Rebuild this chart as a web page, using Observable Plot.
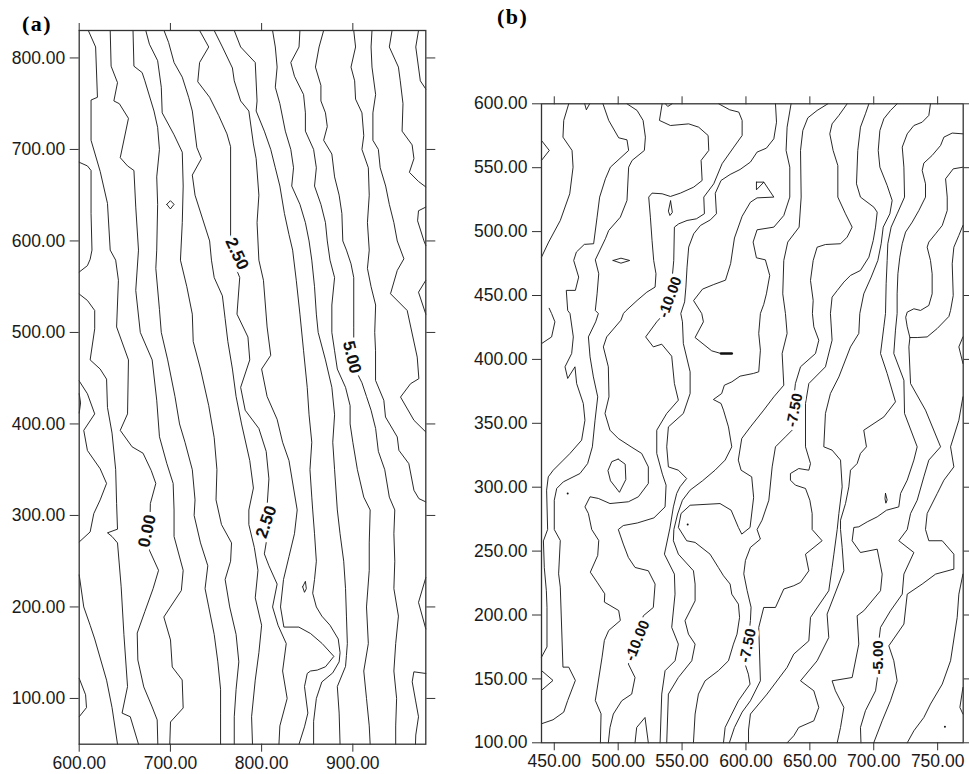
<!DOCTYPE html>
<html><head><meta charset="utf-8">
<script src="https://cdn.jsdelivr.net/npm/d3@7"></script>
<script src="https://cdn.jsdelivr.net/npm/@observablehq/plot@0.6"></script>
<style>
body{margin:0;background:#fff;}
#wrap{position:relative;width:969px;height:774px;overflow:hidden;background:#fff;}
.panel{position:absolute;top:0;}
.tag{position:absolute;font-family:"Liberation Serif","Times New Roman",serif;font-weight:bold;font-size:22px;line-height:1;letter-spacing:1.5px;}
</style></head><body>
<div id="wrap">
<div class="tag" style="left:22px;top:13px">(a)</div>
<div class="tag" style="left:497px;top:6px">(b)</div>
<div id="pa" class="panel" style="left:0px"></div>
<div id="pb" class="panel" style="left:480px"></div>
</div>
<script>
// ---------- Panel (a) ----------
const aTicksX = [600, 700, 800, 900];
const aTicksY = [100, 200, 300, 400, 500, 600, 700, 800];
const A_edge1 = [[600,686],[609,682],[613,677],[613,630],[614,590],[612,580],[609,573],[600,566]];
const A_m05 = [[600,542],[609,535],[617,524],[617,504],[612,470],[623,460],[630,449],[631,418],[636,390],[640,350],[641,313],[642,285],[631,281],[636,277],[642,270],[646,222],[649,170],[653,113],[647,84],[656,80],[665,50]];
const A_m10 = [[600,447],[609,433],[617,411],[605,393],[609,371],[623,351],[630,335],[623,317],[616,302],[612,282],[600,271]];
const A_m15 = [[600,235],[605,200],[612,180],[617,165],[630,120],[636,90],[642,50]];
const A_edge2 = [[600,122],[607,104],[608,90],[600,80]];
const A_edge3 = [[600,433],[601.5,423],[600,412]];
const A_00 = [[610,830],[618,812],[620,757],[613,754],[613,710],[623,676],[631,641],[634,590],[640,579],[643,557],[641,506],[654,470],[653,411],[645,393],[658,375],[670,368],[679,349],[684,335],[678,313],[677,262],[687,240],[681,220],[672,195],[663.6,171.5],[664.3,142],[670.8,112.6],[680,90.7],[685.5,76.6],[686.2,50]];
const A_05 = [[634,830],[635,791],[642,773],[638,753],[644,750],[654,734],[645,691],[653,682],[660,677],[662,637],[665,590],[662,546],[667,500],[680,470],[685,426],[688,386],[696,357],[703,335],[704,306],[704,277],[714,240],[712,218],[700,200],[692.8,189],[700.1,163.9],[702,134.4],[712.9,120.2],[714,89.6],[700.1,74.3],[699.3,50]];
const A_10 = [[659,830],[660,791],[669,784],[672,775],[682,742],[686,724],[688,700],[685,670],[686,640],[685,590],[684,570],[688,525],[690,500],[697,470],[705,430],[710,400],[716,380],[724,350],[727,317],[726,300],[733,270],[741,245],[738,220],[742,200],[748,170],[752,140],[755,110],[755,84],[755,50]];
const A_15 = [[673,830],[677,815],[686,797],[690,768],[691,740],[704,716],[713,697],[714,660],[713,620],[711,579],[718,550],[724,520],[725,490],[733,460],[742,420],[748,385],[751,350],[750,317],[756,290],[767,270],[766,250],[760,230],[765,200],[772,170],[775,140],[772,110],[770,80],[770,50]];
const A_20 = [[693,830],[698,817],[704,795],[713,779],[720,757],[724,742],[729,702],[734,690],[724,672],[727,650],[735,625],[743,600],[745,579],[748,560],[757,540],[760,515],[763,490],[768,460],[772,430],[778,400],[787,360],[791,330],[786,306],[786,290],[792,265],[796,240],[793,210],[800,180],[797,150],[793,120],[789,80],[790,50]];
const A_25 = [[732,830],[742,812],[732,795],[730,774],[743,757],[753,737],[762,717],[766,703],[766,600],[770,575],[776,560],[773,520],[785,495],[787,470],[777,440],[782,415],[797,395],[805,370],[808,340],[806,310],[805,270],[803,258],[808,245],[817,225],[812,200],[818,180],[827,160],[823,130],[828,100],[820,70],[819,50]];
const A_30 = [[748,830],[757,812],[768,789],[770,775],[777,753],[786,742],[791,706],[794,690],[797,650],[795,620],[797,579],[802,557],[806,506],[810,475],[800,460],[806,430],[817,405],[823,380],[830,360],[835,330],[839,306],[836,280],[830,255],[824,230],[820.7,200],[824.4,178],[840.8,178],[853.6,171],[866.4,160],[879.2,146],[870,134.6],[861,131],[853.6,130],[850,127.3],[847,113],[850.7,84],[847,69],[841,50]];
const A_35 = [[770,830],[777,812],[793,795],[795,753],[794,742],[803,720],[810,700],[815,680],[820,660],[825,630],[830,607],[834,590],[838,557],[842,520],[846,480],[850,440],[852,410],[855,380],[853,350],[855,320],[856,306],[858,280],[860,250],[858,230],[856,215],[860,200],[866,190],[875,180],[884,165],[886,150],[885,140],[878,128],[866,118],[860,100],[857,75],[857,50]];
const A_40 = [[812,830],[815,812],[817,790],[815,768],[820,750],[826,720],[832,700],[835,680],[833,660],[842,640],[848,620],[852,600],[855,579],[858,550],[860,520],[862,500],[870,470],[877,440],[880,410],[878,380],[880,350],[883,306],[886,280],[890,250],[892,220],[893,190],[894,160],[893,147],[892,135],[883,113],[885,84],[886,50]];
const A_45 = [[842,830],[841,812],[832,795],[836,780],[846,760],[848,740],[848,720],[857,700],[860,680],[858,660],[865,640],[870,620],[872,600],[875,579],[880,560],[877,530],[877,500],[880,480],[883,460],[892,440],[897,420],[897,400],[900,380],[905,350],[912,320],[919,306],[918,270],[918,240],[915,200],[917,160],[912,130],[915,100],[918,70],[919,50]];
const A_50 = [[868,830],[863,812],[859,790],[865,770],[865,753],[870,740],[872,725],[868,710],[877,695],[880,670],[885,650],[888,630],[889,600],[893,590],[898,575],[901,560],[901,530],[901,505],[901,480],[905,455],[910,445],[915,430],[920,415],[925,395],[928,370],[935,350],[940,320],[946,306],[945,280],[946,250],[945,220],[950,190],[947,160],[945,130],[948,100],[947,70],[947,50]];
const A_55 = [[901,830],[903,812],[898,790],[902,775],[903,755],[910,740],[912,715],[910,700],[917,680],[918,650],[916,620],[918,590],[916,570],[920,550],[925,530],[924,500],[924.9,480],[924.9,447.6],[934,425.8],[935.8,407.6],[948.7,385.8],[950.5,371.2],[961.4,356.6],[967,327.5],[972.4,318.4],[980,314.8]];
const A_60 = [[921,830],[920,812],[921,790],[925,760],[922,740],[922,710],[928,700],[930,680],[936,660],[940,640],[945,620],[948.7,600],[956,580.5],[948.7,567.8],[941.3,542.3],[959.6,524],[970.6,473],[972.4,449.5],[963.3,444],[952.3,429.4],[967,404],[980,391.2]];
const A_65 = [[943,830],[940,812],[950,790],[952,775],[955,750],[954,720],[965,705],[967,690],[962,675],[972,665],[980,659]];
const A_70 = [[972,830],[969,812],[974,775],[980,766]];
const A_r1 = [[980,637],[972,633],[971,622],[978,600],[980,595]];
const A_r2 = [[980,557],[972,544],[980,520]];
const A_r3 = [[980,232],[972,205],[980,176]];
const A_r4 = [[980,127.3],[966.9,129.1],[965.1,118.2],[968.7,98.2],[972,80],[969,60],[968.7,50]];
const A_loop1 = [[696,640],[700,644],[704,640],[700,635],[696,640]];
const A_loop2 = [[845,222],[848,228],[849,220],[847,216],[845,222]];
const aLines = [A_edge1,A_m05,A_m10,A_m15,A_edge2,A_edge3,A_00,A_05,A_10,A_15,A_20,A_25,A_30,A_35,A_40,A_45,A_50,A_55,A_60,A_65,A_70,A_r1,A_r2,A_r3,A_r4,A_loop1,A_loop2];
const aLabelText = ["2.50", "5.00", "0.00", "2.50"];
const aLabelX = [773, 899, 674.5, 805];
const aLabelY = [586, 473, 283, 293];
const aLabelAngle = [65, 76, -78, -71];

// ---------- Panel (b) ----------
const bTicksX = [450, 500, 550, 600, 650, 700, 750];
const bTicksY = [100, 150, 200, 250, 300, 350, 400, 450, 500, 550, 600];
const B1 = [[440,571.3],[446.1,563.5],[440,555.7]];
const B2 = [[461.3,600],[457.4,587],[456.8,573.9],[463.9,563.5],[464.7,550.4],[462.1,529.6],[454.7,508.7],[445.6,491.8],[440,480]];
const B3 = [[473.8,600],[475.1,595.3],[477.7,600]];
const B4 = [[488.1,600],[492.6,587],[500.4,573.4],[506.9,571.8],[508.2,563.5],[493.9,550.4],[490,541.3],[485.5,527],[483.5,511.3],[480.8,490.5],[473.5,490],[467.3,484],[465.2,477.4],[469.1,464.4],[466.5,454],[459.4,454],[460.5,438.3],[462.3,435.9],[464.9,417.6],[463.6,404.6],[458.4,394.2],[460.5,385.1],[466.2,394.2],[467.5,381.1],[472.7,365.5],[474,352.4],[471.4,336.8],[462.3,326.4],[457.1,321.2],[449.2,313.3],[445.3,308.1],[444,297.7],[444.8,266.9],[441.5,258],[442.2,237],[443.8,219],[444.3,206],[444.3,175],[440,167]];
const B5 = [[506.9,600],[514.8,594.8],[519.5,587],[521.3,573.9],[520.5,563.5],[510.9,555.7],[508.2,550.4],[506.9,524.4],[501.7,511.3],[492.6,500.9],[490,494.4],[482.1,477.9],[484.8,467],[483.5,451.3],[482.1,438.3],[484.5,435.9],[482.4,429.4],[476.7,417.6],[478,402],[480.6,386.3],[484,370.7],[481.9,352.4],[479.8,331.6],[476.1,318.5],[470.1,310.7],[462.3,306.8],[457.1,304.2],[451.9,299],[450,289.8],[450,266.9],[454.7,258.3],[453.4,232.2],[454.7,221.8],[456.8,159.2],[461.3,159.2],[466.5,148.8],[460.5,133.1],[457.4,124],[449,118],[440,114.9]];
const B6 = [[534.4,600],[532.3,587],[540.9,583],[555.2,584.3],[563,581.7],[570.4,575.2],[570.9,563.5],[564.9,555.7],[565.7,540],[559.1,534.8],[548.7,530.1],[540.9,527.5],[534.4,529.6],[526.5,530.1],[523.9,527],[525.2,511.3],[526.5,493.1],[527.8,477.4],[529.6,467],[528.9,456.6],[522.4,452.6],[514.8,446.1],[506,438],[504.1,435.9],[502.2,430.7],[491,417.6],[488.4,409.8],[492.3,394.2],[492.8,370.7],[489.7,357.7],[493.6,344.6],[500.1,338.1],[510.1,331.6],[518.4,326.4],[523.6,315.9],[523.6,302.9],[515.8,292.5],[508,288.6],[493.6,287.2],[484.5,291.2],[478,292.5],[474,284.6],[476.7,279.4],[479.3,266.9],[484.8,258.3],[484,246.6],[478.2,233.5],[483.5,225.7],[489.5,216.6],[489.2,210.1],[500.4,203.5],[501.7,195.7],[492.6,187.9],[489.2,180.1],[487.4,167],[482.1,133.1],[486.6,122.7],[486.1,100]];
const B7 = [[537,600],[538.8,597.9],[542.2,600]];
const B8 = [[578.7,600],[587.3,595.3],[594.4,593.5],[597,587],[597,575.2],[590.5,566.1],[581.3,553.1],[574.8,537.4],[567,527],[567.5,514],[561.2,510],[553.9,508.7],[547.4,506.1],[544,503.5],[543.5,477.4],[541,450],[536.2,435.9],[530.2,429.4],[521.5,417.6],[527.5,409.8],[534.1,411.9],[541.9,402.5],[544,381.1],[547.1,368.1],[538,357.7],[530.2,344.6],[530.2,326.4],[534.6,310.2],[537.5,301.6],[536.7,284.6],[528,276],[515,272],[504,270],[500.1,266.9],[504,255.5],[508,245],[513.2,237.2],[523.6,234.6],[528.9,224.2],[527.5,205.9],[519.7,199.4],[514,180],[508,161.6],[513.2,151.1],[510.6,138.1],[502.8,132.9],[496.2,122.5],[493.6,112],[492.3,100]];
const Q1 = [[623.1,600],[623.9,585.6],[621.8,572.6],[616,565.3],[608.7,562.2],[603.5,554.4],[595.4,548.6],[587.6,544.7],[580.5,540],[576,530],[576.9,514],[572.2,509.2],[564.4,504.8],[559.1,498.3],[555.2,487.9],[553.9,472.2],[553,456.6],[552,445],[549,435.9],[550.3,429.4],[551,412.4],[556.3,390.3],[556.3,373.3],[551,357.7],[539.3,347.2],[538,331.6],[539.3,315.9],[547.1,313.3],[553.6,306.8],[548.4,300.3],[545.8,295.1],[543.2,284.6],[540.5,268],[536.2,247.6],[544,232],[544.5,216.3],[541.9,190.3],[547.1,177.2],[544.5,164.2],[536.7,156.4],[534.1,138.1],[532.8,100]];
const T1 = [[614,538.7],[621.8,527],[608.7,526.4],[603.5,523],[597,512],[591,495],[588,475],[584,462],[574.8,458.6],[566,455],[559,446],[565.4,435.9],[566.7,429.4],[560.2,417.1],[573.2,406.7],[580.5,404.6],[588.9,404.6]];
const R1 = [[635.3,600],[632.2,581.7],[631.4,563.5],[634.3,550.4],[634.3,527],[629.6,512.6],[621.8,503.5],[608.7,501.4],[605.6,491.8],[608.2,479.5],[615.2,477.9],[618.6,465.7],[616,451.3],[613.9,443],[611.3,435.9],[610,420.3],[611.3,407.2],[610,390.3],[605.8,389],[595.4,386.9],[588.9,382.4],[583.1,379.8],[581,373.3],[574.5,368.6],[580.5,365.5],[582.4,360.3],[586.3,347.2],[588.9,331.6],[583.7,321.2],[575.8,313.3],[566,305],[556.3,297.7],[550.3,289.8],[546.5,279],[543.6,267],[543.2,258.1],[547.1,247.6],[558.9,234.6],[560.2,224.2],[560.2,211.1],[552.3,195.5],[555,185],[560.2,177.2],[557.6,164.2],[547.1,151.1],[539.3,138.1],[538,100]];
const R2 = [[664.1,600],[655.7,594.8],[648.4,589],[644.5,579.1],[642.7,563.5],[643.2,527],[641.6,503.5],[632.7,491.8],[629.6,477.4],[628.8,451.3],[630.9,435.9],[632.2,420.3],[628.3,404.6],[629.6,379.8],[621.8,370.7],[613.9,360.3],[603.5,347.2],[596.7,338.1],[594,321.2],[596.2,313.3],[604.5,308.1],[606,292],[603.2,268.5],[596.7,263.3],[594.1,268.5],[588.4,282],[579.7,287.2],[556.3,285.9],[549.2,279.4],[547.1,268.5],[553.6,258.1],[560.2,256.8],[571.9,247.6],[578.4,237.2],[582.4,230.7],[587.6,224.2],[588.9,216.3],[594.1,208.5],[595,198.1],[593,185],[590.2,177.2],[586.3,164.2],[578.4,156.4],[568,148.5],[562.8,138.1],[560.2,122.5],[558.9,100]];
const R3 = [[679.2,600],[672.7,590.9],[667.4,584.3],[665.6,576.5],[668.2,563.5],[671.9,551.7],[671.9,527],[677.9,513.9],[683.1,503.5],[679.2,495.7],[674,490.5],[662.2,489.9],[655.7,487.8],[652.6,477.4],[650.5,461.8],[652.6,446.1],[652,436],[653.1,425.5],[657,415],[654.4,404.6],[642.7,394.2],[638.7,381.1],[638,374.6],[636.1,344.6],[630.9,339.4],[623.1,331.6],[620.5,315.9],[617.9,289.8],[612.6,274.2],[608.7,266.9],[611.3,259.4],[603.5,252.9],[599.6,242.7],[598.3,232.2],[600.9,219.2],[604,206.1],[603.5,195.7],[601.4,176],[599.3,161.6],[601.9,153.7],[603.2,145.9],[594.1,132.9],[588.9,122.5],[583.7,112],[582.4,100]];
const R4 = [[696.2,600],[693.5,592.2],[689.6,581.7],[687.5,563.5],[686.5,537.4],[689.6,527],[700.1,519.1],[702.7,515.2],[701.4,503.5],[699.6,493.1],[696.2,480],[689.6,469.6],[681.8,465.7],[676.6,460.5],[671.4,453.9],[667.4,448.7],[666.1,435.9],[667.4,415],[662.2,394.2],[649.2,381.1],[646.6,365.5],[646.6,331.6],[650.5,318.5],[649.2,313.3],[641.3,314.6],[634.8,310.7],[634.8,305.5],[638.7,301.6],[646.6,299],[650,289.8],[651.8,279.4],[651.8,266.9],[659.6,258.1],[646.6,247.6],[649.2,234.6],[642.7,225.5],[637.4,222.9],[629.6,220.3],[623.1,205.9],[613.9,205.9],[610,190.3],[611.3,148.5],[603.5,132.9],[597,124],[591,112],[587,100]];
const R5 = [[718.3,600],[713.1,594.8],[707.9,588.3],[704.8,579.1],[703.5,563.5],[704.8,550.4],[710.5,536.1],[714.4,524.4],[712.6,513.9],[707.4,503.5],[705.8,490.5],[703.2,477.4],[698,464.4],[692.2,451.3],[689.1,436],[688.3,420.3],[681.8,409.8],[672.7,386.3],[666.1,373.3],[662.2,357.7],[660.9,331.6],[667.4,329],[674,321.2],[675.3,300.3],[672.7,279.4],[671.4,266.9],[668.8,247.6],[667.4,237.2],[664.8,219],[650.5,198.1],[649.2,179.8],[637.4,169.4],[632.2,159],[616.5,138.1],[603.5,122.5],[602,110],[602,100]];
const R6 = [[744.4,600],[743.1,590.9],[737.9,585.6],[731.4,583],[726.2,576.5],[722.3,566.1],[723.6,550.4],[724.1,527],[718.3,513.9],[713.6,503.5],[711,490.5],[710.5,477.4],[709.7,459.2],[709.2,436],[707.9,425.5],[705.3,404.6],[710.5,389],[717,366.8],[707.9,355],[692.2,344.6],[694.3,331.6],[689.6,326.4],[687,318.5],[681.8,313.3],[680.5,300.3],[677.9,287.2],[674,274.2],[674,266.9],[675.3,252.9],[676.6,234.6],[663.5,200.7],[664.8,182.4],[655.7,164.2],[642.7,148.5],[653.1,140.7],[657,127.7],[653.1,117.2],[641.3,112],[637.4,105.5],[632.2,100]];
const R7 = [[769.8,576.5],[761.4,577.1],[754.9,573.9],[752.3,567.4],[745.7,559.6],[739.2,553.6],[737.9,547.8],[740.5,537.4],[740.5,527],[735.3,516.5],[730.1,507.4],[724.9,499.6],[722.3,490.5],[720.4,480],[718.9,467],[718.3,451.3],[718.3,436],[717,422.9],[715.7,404.6],[723.6,383.7],[724.1,357.7],[734,331.6],[731.4,321.2],[726.2,305.5],[721,295.1],[719.6,284.6],[710,282],[702.7,276.8],[694.9,272.9],[688.3,269],[684.4,268.5],[683.1,258.1],[689.6,248.9],[702.7,251.5],[706.6,232],[705.3,219],[692.2,203.3],[687,199.4],[688.3,177.2],[683.1,151.1],[667.4,148.5],[670,140.7],[676.6,127.7],[674,112],[671.4,100]];
const R8 = [[769.8,550.4],[762.2,549.1],[756.2,541.3],[757.5,527],[757.5,516.5],[753.6,504.8],[748.4,498.3],[743.1,491.8],[741.8,487.8],[744.4,477.4],[745.7,467],[745.7,451.3],[743.1,442.2],[736.6,438.3],[731.4,439.6],[726.2,437],[725,433],[726.2,425.5],[728.3,417.1],[727.5,409.8],[728.8,381.1],[740.5,360.3],[752.3,331.6],[743.1,321.2],[739.2,308.1],[734,289.8],[728.8,279.4],[726.2,266.9],[719.6,258.1],[731.4,248.9],[723.6,232],[722.3,216.3],[713.1,203.3],[705.3,190.3],[704,179.8],[702.7,149.8],[701.4,140.7],[693.5,125.1],[689.6,112],[690,100]];
const R8b = [[769.8,504.8],[766.6,497],[762.7,487.8],[761.4,474.8],[762.2,450],[760.1,438.3],[758.8,433.6],[749.7,424.2],[741.8,417.6],[734,417.1],[728.3,417.1]];
const R9 = [[769.8,370.7],[766.6,352.4],[760.1,331.6],[762.7,315.9],[754.9,305.5],[749.7,295.1],[741.8,279.4],[740.5,266.9],[743.1,258.1],[753.6,258.1],[762.7,247.6],[762.7,235.9],[748.4,232],[737.9,224.2],[726.2,216.3],[723.6,192.9],[711.8,175.9],[715.7,164.2],[718.3,148.5],[713.1,132.9],[706.6,117.2],[700,100]];
const R10 = [[769.8,232],[766.6,216.3],[765.3,198.1],[760.1,164.2],[753.6,145.9],[744.4,130.3],[739.2,119.8],[731.4,109.4],[726.2,100]];
const R11 = [[769.8,417.6],[766.6,409.8],[769.8,396.8]];
const R12 = [[769.8,143.3],[767.4,127.7],[769.8,122.5]];
const B_bump1 = [[439.9,156.6],[449,148.8],[439.9,141]];
const B_bump2 = [[440.1,412.4],[447.9,417.6],[450.5,429.4],[447.9,435.9],[446,440]];
const B_bump3 = [[513.2,100],[514.5,112],[521,119.8],[523.6,100]];
const B_loop1 = [[541,524],[542.4,515],[540.5,512.6],[539.3,516],[541,524]];
const B_loop2 = [[496,477.4],[502.2,479.2],[509,477.4],[502.2,475.3],[496,477.4]];
const B_loop3 = [[500,322],[505.5,318],[506,306],[501,296],[494,305],[492,313],[495,320],[500,322]];
const B_loop4 = [[608.2,538.7],[614,538.7],[608.2,532.7],[608.2,538.7]];
const B_loop5 = [[709.2,295.1],[710.5,290],[709.5,287.5],[708.8,291],[709.2,295.1]];
const bLines = [B1,B2,B3,B4,B5,B6,B7,B8,Q1,T1,R1,R2,R3,R4,R5,R6,R7,R8,R8b,R9,R10,R11,R12,B_bump1,B_bump2,B_bump3,B_loop1,B_loop2,B_loop3,B_loop4,B_loop5];
const bDotX = [460.5, 554.4, 755.7];
const bDotY = [295.1, 270.8, 112.5];
const bLabelText = ["-10.00", "-7.50", "-10.00", "-7.50", "-5.00"];
const bLabelX = [540.6, 638, 515, 601.4, 703.5];
const bLabelY = [448.7, 360.3, 180, 176.1, 166.8];
const bLabelAngle = [-70, -79, -68, -78, -90];

function toRows(lines) {
  const rows = [];
  lines.forEach((pts, i) => pts.forEach(([x, y]) => rows.push({id: i, x, y})));
  return rows;
}
function labelRows(t, xs, ys, rs) { return t.map((s, i) => ({t: s, x: xs[i], y: ys[i], r: rs[i]})); }

function panel(o) {
  const fmt = d => d.toFixed(2);
  return Plot.plot({
    width: o.width, height: o.height,
    marginLeft: o.ml, marginRight: o.mr, marginTop: o.mt, marginBottom: o.mb,
    x: {domain: o.xd}, y: {domain: o.yd},
    style: {fontFamily: "'Liberation Sans', Arial, Helvetica, sans-serif", fontSize: "17.5px", color: "#1a1a1a", background: "transparent", overflow: "visible"},
    marks: [
      Plot.line(toRows(o.lines), {x: "x", y: "y", z: "id", stroke: "#111", strokeWidth: 0.9}),
      ...(o.dots ? [Plot.dot(o.dots, {x: "x", y: "y", r: 1, fill: "#111"})] : []),
      ...(o.extra || []),
      Plot.text(o.labels, {x: "x", y: "y", text: "t", rotate: "r", fontWeight: "bold", fontSize: o.ls, fill: "white", stroke: "white", strokeWidth: 7}),
      Plot.text(o.labels, {x: "x", y: "y", text: "t", rotate: "r", fontWeight: "bold", fontSize: o.ls, fill: "#111"}),
      Plot.frame({stroke: "#333", strokeWidth: 1.3}),
      Plot.axisX(o.xt, {anchor: "bottom", tickSize: 8, tickPadding: 4, tickFormat: fmt, label: null, fontSize: 17.5, stroke: "#333"}),
      Plot.axisX(o.xt, {anchor: "top", tickSize: 8, tickFormat: () => "", label: null, stroke: "#333"}),
      Plot.axisY(o.yt, {anchor: "left", tickSize: 9, tickPadding: 5, tickFormat: fmt, label: null, fontSize: 17.5, stroke: "#333"}),
      Plot.axisY(o.yt, {anchor: "right", tickSize: 9, tickFormat: () => "", label: null, stroke: "#333"})
    ]
  });
}

document.getElementById("pa").appendChild(panel({
  width: 470, height: 774, ml: 78.7, mr: 44.7, mt: 30, mb: 30.3,
  xd: [600, 980], yd: [50, 830], xt: aTicksX, yt: aTicksY, ls: 17,
  lines: aLines, labels: labelRows(aLabelText, aLabelX, aLabelY, aLabelAngle)
}));
document.getElementById("pb").appendChild(panel({
  width: 489, height: 774, ml: 61, mr: 6.3, mt: 103.3, mb: 31.7,
  xd: [440, 770], yd: [100, 600], xt: bTicksX, yt: bTicksY, ls: 15,
  lines: bLines, labels: labelRows(bLabelText, bLabelX, bLabelY, bLabelAngle),
  dots: bDotX.map((x, i) => ({x, y: bDotY[i]})),
  extra: [Plot.line([{x: 580.5, y: 404.6}, {x: 588.9, y: 404.6}], {x: "x", y: "y", stroke: "#111", strokeWidth: 2.5})]
}));
</script>
</body></html>
